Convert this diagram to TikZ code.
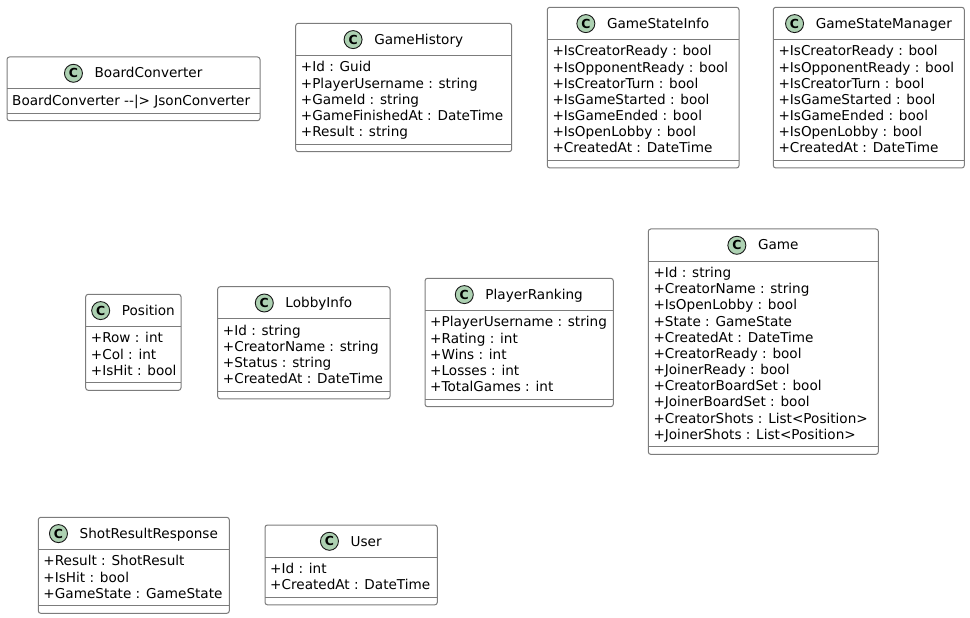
\documentclass[tikz,border=0pt]{standalone}
\usepackage{fontspec}
\setmainfont{DejaVu Sans}
\usetikzlibrary{calc}
\definecolor{linecol}{HTML}{7C7C7C}
\definecolor{badgefill}{HTML}{ADD1B2}
\definecolor{badgeline}{HTML}{181818}
\tikzset{
  classbox/.style={draw=linecol, line width=1bp, fill=white, rounded corners=2.5bp,
    rectangle, inner sep=0pt, outer sep=0pt, anchor=north west},
  sepline/.style={draw=linecol, line width=1bp},
  classbadge/.style={circle, draw=badgeline, fill=badgefill, line width=0.9bp,
    minimum size=18bp, inner sep=0pt, font=\bfseries\fontsize{12.5}{12.5}\selectfont},
  classtitle/.style={anchor=base, inner sep=0pt, font=\fontsize{13.65}{16.2}\selectfont},
  attrline/.style={anchor=base west, inner sep=0pt, font=\fontsize{13.65}{16.2}\selectfont},
}
\newcommand\umlclass[6]{%
  \pgfmathsetmacro\cL{#2}\pgfmathsetmacro\cT{#3}\pgfmathsetmacro\cR{#4}%
  \gdef\nattr{0}%
  \foreach \a [count=\k] in {#6} {\xdef\nattr{\k}}%
  \pgfmathsetmacro\cH{\cT+32}%
  \pgfmathsetmacro\cB{\cH+\nattr*16.17+8}%
  \pgfmathsetmacro\cE{\cB+7.5}%
  \pgfmathsetmacro\cW{\cR-\cL}%
  \pgfmathsetmacro\cHt{\cE-\cT}%
  \node[classbox, minimum width=\cW bp, minimum height=\cHt bp] (#1) at (\cL,\cT) {};
  \draw[sepline] (\cL,\cH) -- (\cR,\cH);
  \draw[sepline] (\cL,\cB) -- (\cR,\cB);
  \node[classtitle] (#1-title) at ({(\cL+\cR)/2+15}, \cT+21) {#5};
  \node[classbadge] (#1-badge) at ($(#1-title.base west)+(-21,-4.7)$) {C};
  \foreach \a [count=\k from 0] in {#6}
    \node[attrline] (#1-a\k) at (\cL+5, \cH+16.6+\k*16.17) {\a};
}
\begin{document}
\begin{tikzpicture}[x=1bp, y=-1bp]
\useasboundingbox (0,0) rectangle (970,618);
\umlclass{boardconverter}{7}{57}{260}{BoardConverter}{BoardConverter -\kern0pt-|> JsonConverter}
\umlclass{gamehistory}{295.7}{23.3}{511.7}{GameHistory}{+Id : Guid,+PlayerUsername : string,+GameId : string,+GameFinishedAt : DateTime,+Result : string}
\umlclass{gamestateinfo}{547.3}{7.3}{739}{GameStateInfo}{+IsCreatorReady : bool,+IsOpponentReady : bool,+IsCreatorTurn : bool,+IsGameStarted : bool,+IsGameEnded : bool,+IsOpenLobby : bool,+CreatedAt : DateTime}
\umlclass{gamestatemanager}{773.3}{7.3}{964.3}{GameStateManager}{+IsCreatorReady : bool,+IsOpponentReady : bool,+IsCreatorTurn : bool,+IsGameStarted : bool,+IsGameEnded : bool,+IsOpenLobby : bool,+CreatedAt : DateTime}
\umlclass{position}{85.7}{294.3}{181}{Position}{+Row : int,+Col : int,+IsHit : bool}
\umlclass{lobbyinfo}{217.7}{286.7}{390}{LobbyInfo}{+Id : string,+CreatorName : string,+Status : string,+CreatedAt : DateTime}
\umlclass{playerranking}{425}{278.3}{613.3}{PlayerRanking}{+PlayerUsername : string,+Rating : int,+Wins : int,+Losses : int,+TotalGames : int}
\umlclass{game}{648.3}{229}{878.3}{Game}{+Id : string,+CreatorName : string,+IsOpenLobby : bool,+State : GameState,+CreatedAt : DateTime,+CreatorReady : bool,+JoinerReady : bool,+CreatorBoardSet : bool,+JoinerBoardSet : bool,+CreatorShots : List<Position>,+JoinerShots : List<Position>}
\umlclass{shotresultresponse}{38.3}{517.3}{229.3}{ShotResultResponse}{+Result : ShotResult,+IsHit : bool,+GameState : GameState}
\umlclass{user}{265}{525}{437.3}{User}{+Id : int,+CreatedAt : DateTime}
\end{tikzpicture}
\end{document}
